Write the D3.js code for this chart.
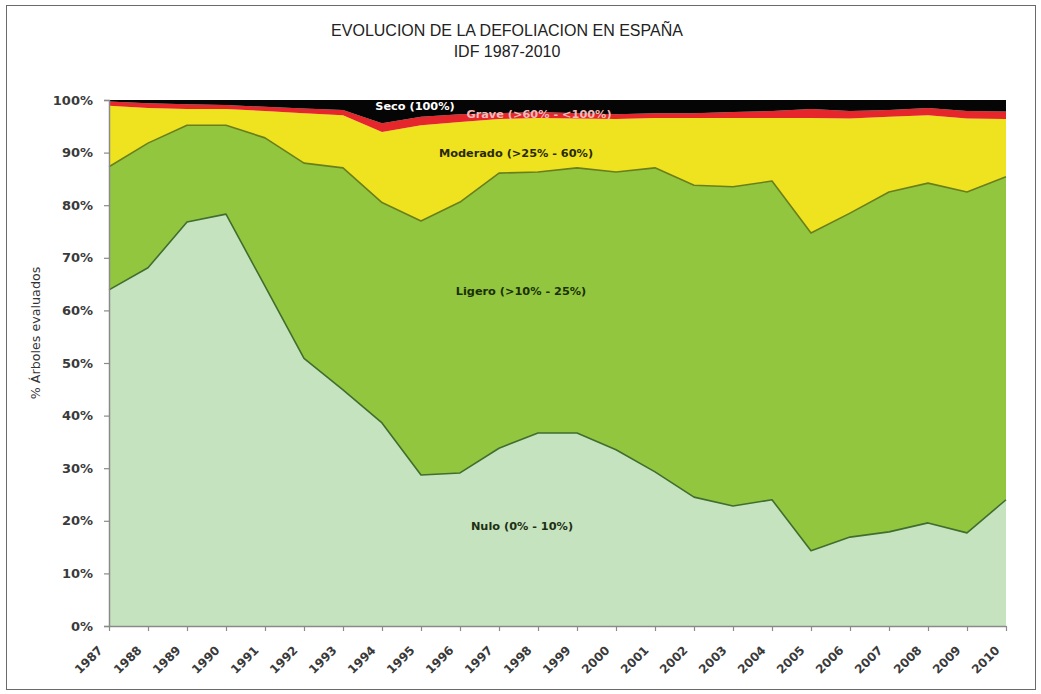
<!DOCTYPE html>
<html>
<head>
<meta charset="utf-8">
<script src="https://cdn.jsdelivr.net/npm/d3@7"></script>
<style>
  html, body { margin: 0; padding: 0; background: #ffffff; }
  svg { display: block; font-family: "DejaVu Sans", Verdana, sans-serif; }
</style>
</head>
<body>
<svg id="chart" width="1041" height="694"></svg>
<script>
// ---- data (percent of trees evaluated) ----
const years = ["1987","1988","1989","1990","1991","1992","1993","1994","1995","1996","1997","1998",
               "1999","2000","2001","2002","2003","2004","2005","2006","2007","2008","2009","2010"];
const nulo     = [63.9, 68.1, 76.8, 78.3, 64.6, 50.9, 44.9, 38.6, 28.7, 29.1, 33.8, 36.7,
                  36.7, 33.5, 29.3, 24.5, 22.8, 24.0, 14.3, 16.9, 17.9, 19.6, 17.7, 24.0];
const ligero   = [23.4, 23.7, 18.4, 16.9, 28.2, 37.1, 42.2, 41.9, 48.3, 51.5, 52.3, 49.6,
                  50.4, 52.8, 57.8, 59.3, 60.7, 60.6, 60.4, 61.6, 64.6, 64.6, 64.8, 61.4];
const moderado = [11.6, 6.7, 3.1, 3.1, 5.1, 9.5, 10.0, 13.4, 18.2, 15.2, 10.3, 10.3,
                  9.4, 10.1, 9.5, 12.8, 13.1, 12.0, 21.9, 18.0, 14.3, 12.9, 14.0, 11.0];
const grave    = [0.8, 0.9, 0.9, 0.75, 0.8, 0.9, 1.0, 1.7, 1.6, 1.5, 1.1, 1.1,
                  1.0, 0.9, 0.9, 0.9, 1.1, 1.3, 1.7, 1.4, 1.3, 1.4, 1.4, 1.4];
const seco     = [0.3, 0.6, 0.8, 0.95, 1.3, 1.6, 1.9, 4.4, 3.2, 2.7, 2.5, 2.3,
                  2.5, 2.7, 2.5, 2.5, 2.3, 2.1, 1.7, 2.1, 1.9, 1.5, 2.1, 2.2];
const seriesKeys   = ["nulo", "ligero", "moderado", "grave", "seco"];
const seriesLabels = ["Nulo (0% - 10%)", "Ligero (>10% - 25%)", "Moderado (>25% - 60%)", "Grave (>60% - <100%)", "Seco (100%)"];
const yTicks = [0, 10, 20, 30, 40, 50, 60, 70, 80, 90, 100];
const title1 = "EVOLUCION DE LA DEFOLIACION EN ESPAÑA";
const title2 = "IDF 1987-2010";
const yTitle = "% Árboles evaluados";

// ---- build table ----
const table = years.map((yr, i) => ({
  year: yr, nulo: nulo[i], ligero: ligero[i], moderado: moderado[i], grave: grave[i], seco: seco[i]
}));

const fills   = { nulo: "#c5e3be", ligero: "#92c63e", moderado: "#efe31f", grave: "#e5262a", seco: "#050505" };
const strokes = { nulo: "#3f6e2e", ligero: "#6a7f1c" };

const svg = d3.select("#chart");
const mLeft = 109, mRight = 1006, mTop = 100, mBottom = 626;
const fontSans = "DejaVu Sans, Verdana, sans-serif";
const fontArial = "Liberation Sans, Arial, sans-serif";

// outer frame
svg.append("rect").attr("x", 6.5).attr("y", 5.5).attr("width", 1029).attr("height", 684)
  .attr("fill", "none").attr("stroke", "#6a6a6a").attr("stroke-width", 1);

const x = d3.scalePoint().domain(years).range([mLeft, mRight]);
const y = d3.scaleLinear().domain([0, 100]).range([mBottom, mTop]);

const stacked = d3.stack().keys(seriesKeys)(table);

const area = d3.area()
  .x(d => x(d.data.year))
  .y0(d => y(d[0]))
  .y1(d => y(Math.min(100, d[1])));

const topLine = d3.line()
  .x(d => x(d.data.year))
  .y(d => y(Math.min(100, d[1])));

svg.append("g").selectAll("path.area").data(stacked).join("path")
  .attr("class", "area")
  .attr("d", area)
  .attr("fill", s => fills[s.key]);

svg.append("g").selectAll("path.edge").data(stacked.filter(s => s.key === "nulo" || s.key === "ligero")).join("path")
  .attr("class", "edge")
  .attr("d", topLine)
  .attr("fill", "none")
  .attr("stroke", s => strokes[s.key])
  .attr("stroke-width", 1.6)
  .attr("stroke-linejoin", "round");

// axes
const yAxis = d3.axisLeft(y).tickValues(yTicks).tickFormat(d => d + "%").tickSize(5).tickPadding(11);
const gy = svg.append("g").attr("transform", `translate(${mLeft},0)`).call(yAxis);
gy.select(".domain").attr("stroke", "#8a8a8a").attr("stroke-width", 1.5);
gy.selectAll(".tick line").attr("stroke", "#8a8a8a").attr("stroke-width", 1.2);
gy.selectAll(".tick text").attr("fill", "#3a3a3a").attr("font-size", 13).attr("font-weight", "bold")
  .attr("font-family", fontSans);

const xAxis = d3.axisBottom(x).tickSize(5).tickPadding(6).tickSizeOuter(0);
const gx = svg.append("g").attr("transform", `translate(0,${mBottom})`).call(xAxis);
gx.select(".domain").attr("stroke", "#8a8a8a").attr("stroke-width", 1.5);
gx.selectAll(".tick line").attr("stroke", "#8a8a8a").attr("stroke-width", 1.2);
gx.selectAll(".tick text")
  .attr("fill", "#3a3a3a").attr("font-size", 12).attr("font-weight", "bold")
  .attr("font-family", fontSans)
  .attr("text-anchor", "end")
  .attr("transform", "translate(-9,22) rotate(-45)")
  .attr("dy", "0.35em").attr("y", 0).attr("x", 0);

// titles
svg.append("text").attr("x", 507).attr("y", 36).attr("text-anchor", "middle")
  .attr("font-family", fontArial).attr("font-size", 16).attr("fill", "#222").text(title1);
svg.append("text").attr("x", 507).attr("y", 57).attr("text-anchor", "middle")
  .attr("font-family", fontArial).attr("font-size", 16).attr("fill", "#222").text(title2);
svg.append("text").attr("transform", "translate(40,333) rotate(-90)").attr("text-anchor", "middle")
  .attr("font-family", fontSans).attr("font-size", 12.7).attr("fill", "#333").text(yTitle);

// in-chart labels
const labelPos = {
  nulo:     { x: 522, y: 530, fill: "#1e3014" },
  ligero:   { x: 521, y: 295, fill: "#1a3008" },
  moderado: { x: 516, y: 157, fill: "#2a2a08" },
  grave:    { x: 539, y: 118, fill: "#f3b9b9" },
  seco:     { x: 415, y: 110, fill: "#ffffff" }
};
svg.append("g").selectAll("text").data(seriesKeys).join("text")
  .attr("x", k => labelPos[k].x).attr("y", k => labelPos[k].y)
  .attr("text-anchor", "middle").attr("font-size", 11.3).attr("font-weight", "bold")
  .attr("font-family", fontSans)
  .attr("fill", k => labelPos[k].fill)
  .text((k, i) => seriesLabels[i]);
</script>
</body>
</html>
